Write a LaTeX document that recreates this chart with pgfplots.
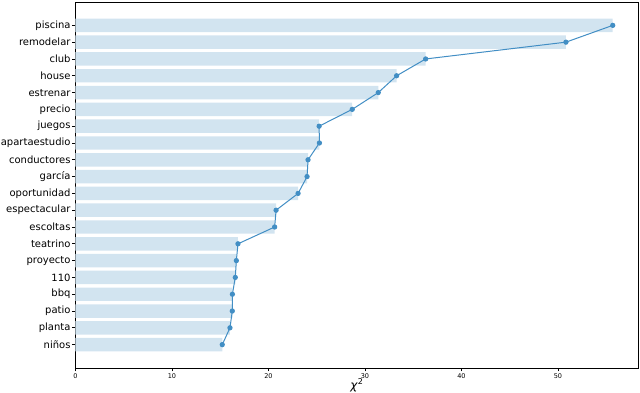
\documentclass[border=0pt]{standalone}
\usepackage{pgfplots}
\pgfplotsset{compat=1.18}
\usepackage{fontspec}
\setmainfont{DejaVu Sans}
\definecolor{barC}{RGB}{210,228,240}
\definecolor{lineC}{RGB}{66,142,196}
\pgfplotstableread{
y x
0 15.21
1 16.01
2 16.25
3 16.26
4 16.56
5 16.67
6 16.84
7 20.64
8 20.79
9 23.07
10 24.0
11 24.1
12 25.28
13 25.25
14 28.68
15 31.38
16 33.28
17 36.29
18 50.83
19 55.68
}\datatable
\begin{document}
\begin{tikzpicture}
\useasboundingbox (-75.5pt,-25pt) rectangle (564.5pt,368pt);
\begin{axis}[
  at={(0,0)}, anchor=south west,
  scale only axis,
  width=563pt, height=366pt,
  xmin=0, xmax=58.35,
  ymin=-1.39, ymax=20.39,
  axis line style={black, line width=0.8pt},
  tick align=outside,
  tick style={black, line width=0.8pt},
  major tick length=3.5pt,
  xtick={0,10,20,30,40,50},
  ytick={0,...,19},
  yticklabels={niños,planta,patio,bbq,110,proyecto,teatrino,escoltas,espectacular,oportunidad,garcía,conductores,apartaestudio,juegos,precio,estrenar,house,club,remodelar,piscina},
  xtick pos=bottom, ytick pos=left,
  /pgf/number format/assume math mode=true,
  xticklabel style={font=\fontsize{6.5}{7}\selectfont, inner sep=1.5pt},
  yticklabel style={font=\fontsize{10}{12}\selectfont, inner sep=1.3pt},
  xlabel={\textit{χ}\textsuperscript{2}},
  xlabel style={font=\fontsize{12}{14}\selectfont, inner sep=0pt, yshift=1pt},
  clip=false,
]
\addplot[xbar, bar width=0.8, fill=barC, draw=none, bar shift=0pt] table[x=x, y=y] {\datatable};
\addplot[color=lineC, line width=1.0pt, mark=*, mark size=2.1pt, mark options={fill=lineC, draw=lineC}] table[x=x, y=y] {\datatable};
\end{axis}
\end{tikzpicture}
\end{document}
